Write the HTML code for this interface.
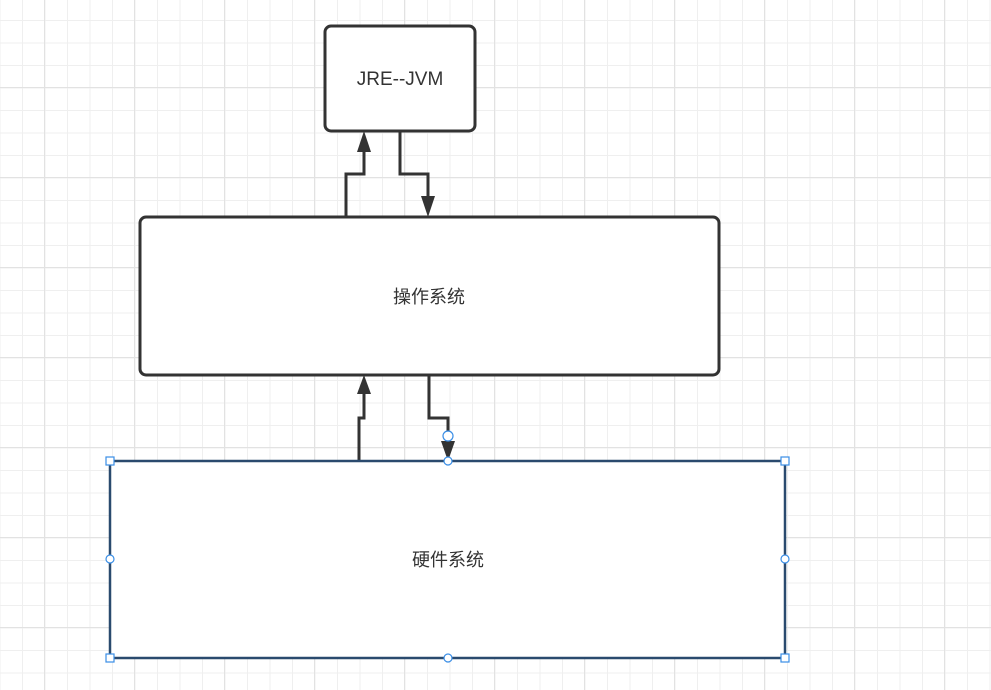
<!DOCTYPE html>
<html><head><meta charset="utf-8"><style>
html,body{margin:0;padding:0;}
body{width:991px;height:690px;overflow:hidden;background-color:#fff;
background-image:
linear-gradient(to right,#e2e2e2 1px,transparent 1px),
linear-gradient(to bottom,#e2e2e2 1px,transparent 1px),
linear-gradient(to right,#efefef 1px,transparent 1px),
linear-gradient(to bottom,#efefef 1px,transparent 1px);
background-size:90px 90px,90px 90px,22.5px 22.5px,22.5px 22.5px;
background-position:44px 0,0 87px,22px 0,0 20px;
font-family:"Liberation Sans","Noto Sans CJK SC",sans-serif;}
svg{position:absolute;left:0;top:0;}
</style></head><body>
<svg width="991" height="690" xmlns="http://www.w3.org/2000/svg">
<g fill="none" stroke="#333" stroke-width="3">
<rect x="325" y="26" width="150" height="105" rx="6" fill="#fff"/>
<rect x="140" y="217" width="579" height="158" rx="6" fill="#fff"/>
<polyline points="346,217 346,174 364,174 364,150"/>
<polyline points="400,131 400,174 428,174 428,198"/>
<polyline points="359,461 359,418 364,418 364,393"/>
<polyline points="429,375 429,418 448,418 448,445"/>
</g>
<g fill="#333">
<polygon points="364,131 357,152 371,152"/>
<polygon points="428,217 421,196 435,196"/>
<polygon points="364,375 357,394 371,394"/>
<polygon points="448,461 441,441 455,441"/>
</g>
<rect x="110" y="461" width="675" height="197" fill="#fff" stroke="#2a4a6e" stroke-width="2.5"/>
<g fill="#fff" stroke="#3a8ee6" stroke-width="1.2">
<circle cx="448" cy="436" r="5"/>
<circle cx="448" cy="461" r="4"/><circle cx="448" cy="658" r="4"/>
<circle cx="110" cy="559" r="4"/><circle cx="785" cy="559" r="4"/>
<rect x="106" y="457" width="8" height="8"/><rect x="781" y="457" width="8" height="8"/>
<rect x="106" y="654" width="8" height="8"/><rect x="781" y="654" width="8" height="8"/>
</g>
<g fill="#333" text-anchor="middle" font-family="Liberation Sans, Noto Sans CJK SC, sans-serif">
<text x="400" y="85" font-size="19">JRE--JVM</text>
<text x="429" y="303" font-size="18">操作系统</text>
<text x="448" y="566" font-size="18">硬件系统</text>
</g>
</svg>
</body></html>
